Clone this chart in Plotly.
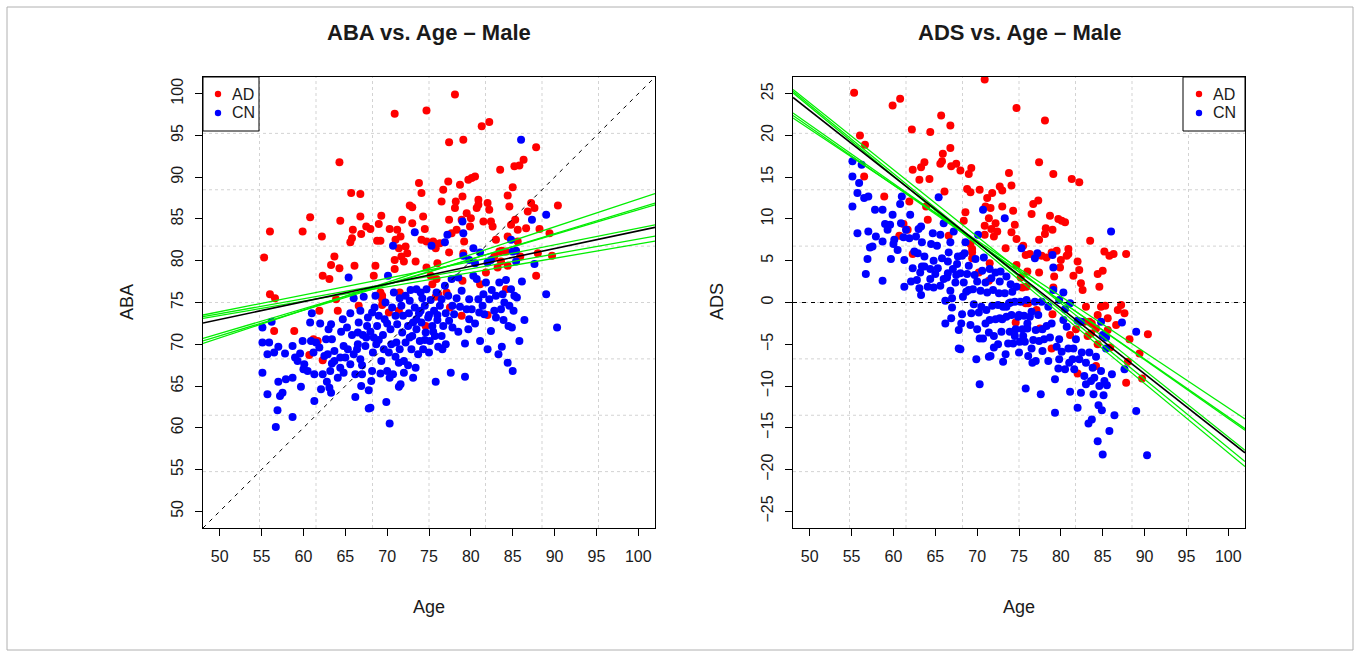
import plotly.graph_objects as go

# ---------------- data ----------------
ad_age = [55.3,56.0,56.0,56.6,56.5,58.9,59.9,60.8,60.7,61.2,61.7,62.2,62.3,62.3,63.1,63.3,63.7,64.3,64.3,64.4,
          64.1,61.9,63.9,65.7,66.8,66.8,66.9,65.9,65.8,65.6,66.1,66.6,67.5,68.0,68.4,68.6,68.8,69.2,69.0,69.3,
          69.2,69.4,69.4,70.3,70.9,70.9,70.9,71.0,71.2,71.4,71.6,71.8,71.5,71.7,72.0,72.2,72.4,72.7,73.0,73.0,
          73.4,73.8,74.1,74.3,74.5,74.7,74.1,74.7,74.7,74.6,75.2,75.4,75.5,75.8,75.9,76.0,76.1,76.3,76.5,76.7,
          77.3,77.4,77.4,77.4,77.7,78.1,78.1,78.2,78.3,78.7,78.9,79.1,79.0,79.2,79.1,79.0,78.9,79.5,79.7,79.9,
          80.0,80.1,80.5,80.7,80.9,80.9,81.1,81.3,81.5,81.8,82.0,82.2,82.2,82.4,82.6,82.8,83.0,83.2,83.5,83.4,
          83.7,84.2,84.4,84.4,84.6,84.8,85.0,85.2,85.3,85.6,85.6,85.8,85.9,86.3,86.6,86.8,87.2,87.6,87.8,87.8,
          88.0,88.2,89.4,89.7,90.4,84.2,82.0,84.4,83.6,75.8,77.1,71.4,70.2,69.4,77.5]
ad_aba = [80.4,83.5,76.0,75.5,71.6,71.6,83.5,85.2,68.7,70.6,70.4,82.9,78.2,68.1,77.8,79.5,80.5,79.1,91.8,84.8,
          74.0,74.0,75.4,88.1,88.0,85.3,83.2,83.7,82.7,82.2,79.4,74.6,84.1,83.8,78.2,79.4,82.4,82.4,84.4,85.4,
          76.2,75.8,74.7,83.8,97.6,80.1,79.0,82.5,83.7,81.5,82.9,84.9,76.2,80.5,79.9,81.7,80.9,86.6,86.4,84.5,
          79.9,89.3,88.1,85.3,83.8,98.0,82.5,82.3,79.2,72.2,78.2,77.2,82.3,81.5,77.8,79.7,76.0,82.1,87.1,88.5,
          89.5,94.2,84.9,81.0,83.3,99.9,86.3,87.1,83.7,89.1,84.9,94.5,87.7,82.3,80.9,77.6,73.4,85.7,89.7,84.1,
          85.1,89.9,90.1,86.3,87.3,86.7,77.2,96.1,84.7,78.6,86.9,96.6,86.1,84.7,84.1,80.5,82.5,79.2,90.9,81.1,
          81.2,81.1,87.8,82.9,86.5,84.3,88.8,91.3,84.9,82.3,83.7,91.4,80.5,92.1,83.9,85.9,86.9,86.3,93.6,78.2,
          80.9,83.8,83.3,80.6,86.6,76.6,73.5,79.4,79.9,75.7,76.2,74.0,73.8,75.4,74.4]

cn_age = [55.1,56.2,55.1,55.9,55.7,56.5,57.0,57.8,55.1,55.7,57.0,57.2,57.5,56.9,56.7,57.9,58.7,58.7,58.7,59.0,
          59.3,59.6,59.9,59.7,60.0,60.1,60.5,60.8,61.0,60.9,61.2,61.3,61.3,61.5,61.9,62.1,62.3,62.5,62.7,62.8,
          62.9,63.1,63.2,63.3,63.3,63.4,63.4,63.7,63.7,64.1,64.4,64.4,64.7,64.8,64.8,65.0,65.2,65.3,65.4,65.6,
          65.6,65.8,66.0,66.2,66.2,66.4,66.5,66.6,66.8,66.8,66.9,67.0,67.1,67.2,67.4,67.6,67.7,67.8,68.0,67.8,
          68.1,68.2,68.3,68.4,68.5,68.6,68.7,68.8,69.0,69.2,69.3,69.5,69.6,69.7,69.9,70.0,70.1,70.2,70.3,70.3,
          70.4,70.6,70.7,70.7,70.8,71.0,71.1,71.2,71.4,71.4,71.5,71.6,71.7,71.8,71.9,72.0,72.2,72.2,72.5,72.6,
          72.7,72.7,72.9,73.1,73.1,73.3,73.3,73.4,73.5,73.5,73.7,73.8,73.9,74.0,74.1,74.3,74.5,74.6,74.7,74.9,
          75.0,75.1,75.2,75.3,75.4,75.6,75.7,75.8,75.9,76.0,76.1,76.3,76.5,76.6,76.7,76.9,76.9,77.0,77.2,77.3,
          77.4,77.6,77.7,77.8,78.0,78.3,78.5,78.7,78.9,79.0,79.1,79.3,79.3,79.5,79.7,79.8,79.8,80.1,80.3,80.3,
          80.5,80.7,80.9,81.0,81.1,81.4,81.6,81.8,82.0,82.2,82.4,82.8,83.0,83.0,83.3,83.4,83.6,83.7,83.8,83.9,
          84.2,84.4,84.5,84.6,84.8,84.9,85.0,85.1,85.2,85.4,85.4,85.5,85.8,86.0,86.1,86.4,87.3,87.6,89.0,89.0,
          90.3,84.8,85.0,82.4,81.1,82.0,79.1,
          66.5,67.0,68.0,69.0,70.0,70.5,71.0,72.0,72.5,73.0,73.5,74.0,74.5,75.0,75.5,76.0,76.5,77.0,71.5,72.8,
          74.2,69.8,68.2,67.5,66.0,64.5,63.0,62.0,77.8,78.5,80.5,79.8,82.5,84.0,81.5]
cn_aba = [72.0,72.7,70.2,70.2,68.8,69.0,69.7,68.9,66.6,64.0,65.5,63.8,64.2,62.1,60.1,65.8,66.0,61.3,69.8,68.4,
          68.0,68.9,70.4,64.9,67.0,67.6,66.8,72.6,73.7,70.4,69.0,66.4,63.2,70.2,69.6,64.6,66.4,68.6,70.6,65.5,
          68.8,64.8,66.8,72.4,64.2,70.6,67.7,69.2,68.0,66.0,67.2,68.4,73.0,69.8,66.6,68.4,72.0,69.4,78.0,73.7,
          67.6,71.1,75.5,63.7,66.4,69.4,71.4,72.6,74.0,68.2,65.0,66.4,71.1,75.7,69.8,72.2,73.2,62.3,62.4,64.5,
          65.6,66.8,69.0,70.8,74.4,75.8,70.0,72.2,73.4,66.5,68.0,71.1,69.4,73.0,63.1,66.8,78.2,69.0,60.5,66.0,
          71.8,74.4,81.8,66.4,76.2,73.4,70.2,72.4,64.9,67.8,69.4,65.2,74.6,71.4,73.4,66.6,75.8,70.2,72.2,73.7,
          70.8,75.2,69.4,72.6,66.0,83.4,74.4,67.2,76.6,71.8,68.8,73.7,70.4,76.2,72.6,69.4,74.6,71.4,76.6,73.2,
          69.0,70.4,75.3,81.8,72.2,74.0,71.0,65.5,76.2,72.9,69.7,74.6,75.4,69.4,72.2,82.2,77.0,73.7,83.1,75.8,
          72.8,66.6,77.8,74.6,73.6,75.5,78.0,74.5,76.4,84.7,83.3,70.1,66.1,74.2,71.8,75.4,80.1,74.2,81.5,78.2,
          79.7,77.8,75.4,73.8,70.4,74.6,73.6,77.4,69.4,75.4,71.6,74.0,75.8,73.2,68.8,77.4,74.2,69.7,76.0,72.9,
          77.7,67.8,72.2,74.6,76.6,72.0,66.8,74.0,75.8,81.2,79.9,75.6,70.4,94.5,77.5,72.9,84.9,79.6,85.5,76.0,
          72.0,82.5,81.1,80.1,81.0,79.8,80.6,
          70.0,67.5,71.5,70.5,72.5,70.0,68.5,68.0,67.5,71.0,73.0,74.0,70.5,73.5,71.5,73.5,71.0,70.0,75.5,76.5,
          75.5,75.0,73.8,70.8,68.8,71.5,71.8,72.5,72.0,71.5,72.5,73.0,76.5,75.0,76.0]

# ADS (age deviation score) = ABA - Age, as plotted in the right panel
ad_ads = [b - a for a, b in zip(ad_age, ad_aba)]
cn_ads = [b - a for a, b in zip(cn_age, cn_aba)]

# fitted lines: ABA value at age 48 and at age 102 (panel edges)
fit_ages = [48, 102]
black_fit = [72.55, 84.0]
green_fits = [[70.1, 88.05], [70.4, 86.9], [70.7, 86.7], [73.5, 84.3], [73.3, 82.95], [73.1, 82.35]]

titles = ["ABA vs. Age \u2013 Male", "ADS vs. Age \u2013 Male"]
y_titles = ["ABA", "ADS"]
x_title = "Age"
groups = ["AD", "CN"]
x_ticks = [50, 55, 60, 65, 70, 75, 80, 85, 90, 95, 100]
y_ticks_left = [50, 55, 60, 65, 70, 75, 80, 85, 90, 95, 100]
y_ticks_right = [-25, -20, -15, -10, -5, 0, 5, 10, 15, 20, 25]
x_range = [48, 102]
y_range_left = [48, 102]
y_range_right = [-27, 27]

# ---------------- figure ----------------
W, H = 1360, 656
FONT = "Liberation Sans, Arial, Helvetica, sans-serif"
TXT = "#1a1a1a"
RED = "#ff0000"
BLUE = "#0000ff"
GREEN = "#00ee00"
COLORS = [RED, BLUE]

def px(x):
    return x / W

def py(y):
    return (H - y) / H

dom_x1 = [px(203), px(655)]
dom_x2 = [px(793), px(1245)]
dom_y = [py(528), py(77)]

fig = go.Figure()

# scatter points
for ax, ay, data in [("x", "y", [(ad_age, ad_aba), (cn_age, cn_aba)]),
                     ("x2", "y2", [(ad_age, ad_ads), (cn_age, cn_ads)])]:
    for (xs, ys), name, col in zip(data, groups, COLORS):
        fig.add_trace(go.Scatter(x=xs, y=ys, mode="markers", name=name, showlegend=False,
                                 marker=dict(color=col, size=8), xaxis=ax, yaxis=ay))

# reference lines: identity (left), zero (right)
fig.add_trace(go.Scatter(x=x_range, y=x_range, mode="lines", showlegend=False,
                         line=dict(color="black", width=1, dash="4px,5px"), xaxis="x", yaxis="y"))
fig.add_trace(go.Scatter(x=x_range, y=[0, 0], mode="lines", showlegend=False,
                         line=dict(color="black", width=1, dash="4px,5px"), xaxis="x2", yaxis="y2"))

# green fit lines
for g in green_fits:
    fig.add_trace(go.Scatter(x=fit_ages, y=g, mode="lines", showlegend=False,
                             line=dict(color=GREEN, width=1.3), xaxis="x", yaxis="y"))
    fig.add_trace(go.Scatter(x=fit_ages, y=[v - a for v, a in zip(g, fit_ages)], mode="lines",
                             showlegend=False, line=dict(color=GREEN, width=1.3), xaxis="x2", yaxis="y2"))
# black fit line
fig.add_trace(go.Scatter(x=fit_ages, y=black_fit, mode="lines", showlegend=False,
                         line=dict(color="black", width=1.6), xaxis="x", yaxis="y"))
fig.add_trace(go.Scatter(x=fit_ages, y=[v - a for v, a in zip(black_fit, fit_ages)], mode="lines",
                         showlegend=False, line=dict(color="black", width=1.6), xaxis="x2", yaxis="y2"))

# dotted grid (8 equal cells, as R's grid())
shapes = []
for xr, yr, axx, axy in [(x_range, y_range_left, "x", "y"), (x_range, y_range_right, "x2", "y2")]:
    for k in range(1, 8):
        xv = xr[0] + (xr[1] - xr[0]) * k / 8
        yv = yr[0] + (yr[1] - yr[0]) * k / 8
        shapes.append(dict(type="line", xref=axx, yref=axy + " domain", x0=xv, x1=xv, y0=0, y1=1,
                           line=dict(color="#d3d3d3", width=1, dash="dot"), layer="below"))
        shapes.append(dict(type="line", xref=axx + " domain", yref=axy, x0=0, x1=1, y0=yv, y1=yv,
                           line=dict(color="#d3d3d3", width=1, dash="dot"), layer="below"))
# outer frame of the figure
shapes.append(dict(type="rect", xref="paper", yref="paper", x0=px(7), x1=px(1353),
                   y0=py(650), y1=py(7), line=dict(color="#b0b0b0", width=1)))

annotations = []
# manual legends (R style boxes)
for (bx0, bx1), dotx in [((203, 259), 218), ((1183, 1245), 1199)]:
    shapes.append(dict(type="rect", xref="paper", yref="paper", x0=px(bx0), x1=px(bx1),
                       y0=py(131), y1=py(77), line=dict(color="black", width=1), fillcolor="white"))
    for name, col, yy in zip(groups, COLORS, [94, 113]):
        shapes.append(dict(type="circle", xref="paper", yref="paper", x0=px(dotx - 3.2), x1=px(dotx + 3.2),
                           y0=py(yy + 3.2), y1=py(yy - 3.2), line=dict(width=0), fillcolor=col))
        annotations.append(dict(text=name, x=px(dotx + 12), y=py(yy), xref="paper", yref="paper",
                                xanchor="left", yanchor="middle", showarrow=False,
                                font=dict(family=FONT, size=16, color=TXT)))

for dom, t, yt, ytx in [(dom_x1, titles[0], y_titles[0], 127), (dom_x2, titles[1], y_titles[1], 717)]:
    cx = (dom[0] + dom[1]) / 2
    annotations.append(dict(text="<b>%s</b>" % t, x=cx, y=py(32), xref="paper", yref="paper",
                            xanchor="center", yanchor="middle", showarrow=False,
                            font=dict(family=FONT, size=22, color=TXT)))
    annotations.append(dict(text=x_title, x=cx, y=py(607), xref="paper", yref="paper",
                            xanchor="center", yanchor="middle", showarrow=False,
                            font=dict(family=FONT, size=18, color=TXT)))
    annotations.append(dict(text=yt, x=px(ytx), y=py(302), xref="paper", yref="paper",
                            xanchor="center", yanchor="middle", textangle=-90, showarrow=False,
                            font=dict(family=FONT, size=18, color=TXT)))

axis_common = dict(showline=True, linecolor="black", linewidth=1, mirror=True, showgrid=False,
                   zeroline=False, ticks="outside", ticklen=7, tickcolor="black", tickwidth=1,
                   tickfont=dict(family=FONT, size=16, color=TXT))

fig.update_layout(
    width=W, height=H, margin=dict(l=0, r=0, t=0, b=0),
    paper_bgcolor="white", plot_bgcolor="white", showlegend=False,
    font=dict(family=FONT, color=TXT),
    xaxis=dict(domain=dom_x1, range=x_range, tickvals=x_ticks, anchor="y", ticklabelstandoff=7, **axis_common),
    yaxis=dict(domain=dom_y, range=y_range_left, tickvals=y_ticks_left, anchor="x", tickangle=-90,
               ticklabelstandoff=6, **axis_common),
    xaxis2=dict(domain=dom_x2, range=x_range, tickvals=x_ticks, anchor="y2", ticklabelstandoff=7, **axis_common),
    yaxis2=dict(domain=dom_y, range=y_range_right, tickvals=y_ticks_right, anchor="x2", tickangle=-90,
                ticklabelstandoff=6, **axis_common),
    shapes=shapes,
    annotations=annotations,
)

fig.write_html("out.html")
